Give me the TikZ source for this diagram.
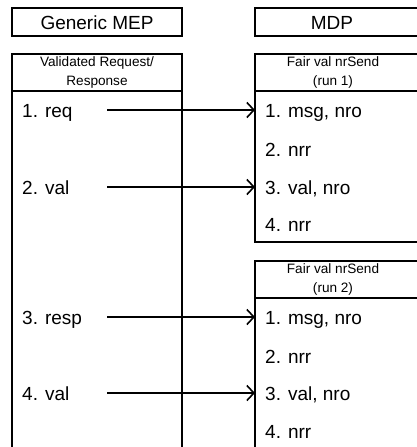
\documentclass[tikz,border=0pt]{standalone}
\usepackage{fontspec}
\setmainfont{Liberation Sans}
\usetikzlibrary{arrows.meta}
\begin{document}
\begin{tikzpicture}[x=1pt,y=-1pt,
  frame/.style={draw=black,line width=1.7pt},
  big/.style={font=\fontsize{19}{22}\selectfont,inner sep=0pt},
  small/.style={font=\fontsize{13.6}{19}\selectfont,inner sep=0pt,align=center},
  item/.style={big,anchor=base west},
  msg/.style={line width=1.7pt,-{Straight Barb[length=7pt,width=15pt,line width=1.6pt]}}]
\useasboundingbox (0,0) rectangle (417,447);
\clip (0,0) rectangle (417,447);

% title boxes
\draw[frame] (12,8) rectangle (182,36);
\node[big] (gmep) at (97,22.5) {Generic MEP};
\draw[frame] (255,8) rectangle (440,36);
\node[big] (mdp) at (332,22.5) {MDP};

% Generic MEP lifeline box
\coordinate (vtl) at (12,54);
\coordinate (vtr) at (182,54);
\draw[frame] (12,460) -- (vtl) -- (vtr) -- (182,460);
\draw[frame] (12,91) -- (182,91);
\node[small] (vhead) at (97,72.5) {Validated Request/\\Response};

% MDP run 1
\coordinate (f1tl) at (255,54);
\draw[frame] (440,54) -- (f1tl) -- (255,242) -- (440,242);
\draw[frame] (255,91) -- (440,91);
\node[small] (f1head) at (333,72.5) {Fair val nrSend\\(run 1)};

% MDP run 2
\coordinate (f2tl) at (255,261);
\draw[frame] (440,261) -- (f2tl) -- (255,460);
\draw[frame] (255,298) -- (440,298);
\node[small] (f2head) at (333,279.5) {Fair val nrSend\\(run 2)};

% left items
\node[item] (l1) at (22,117.5) {1. req};
\node[item] (l2) at (22,194.5) {2. val};
\node[item] (l3) at (22,324.5) {3. resp};
\node[item] (l4) at (22,400.5) {4. val};

% right items, run 1
\node[item] (r1) at (265,117.5) {1. msg, nro};
\node[item] (r2) at (265,156.5) {2. nrr};
\node[item] (r3) at (265,194.5) {3. val, nro};
\node[item] (r4) at (265,231.5) {4. nrr};

% right items, run 2
\node[item] (q1) at (265,324.5) {1. msg, nro};
\node[item] (q2) at (265,363.5) {2. nrr};
\node[item] (q3) at (265,400.5) {3. val, nro};
\node[item] (q4) at (265,438.5) {4. nrr};

% messages
\coordinate (s1) at (107,110);
\coordinate (s2) at (107,187);
\coordinate (s3) at (107,317);
\coordinate (s4) at (107,393);
\draw[msg] (s1) -- (s1 -| f1tl);
\draw[msg] (s2) -- (s2 -| f1tl);
\draw[msg] (s3) -- (s3 -| f2tl);
\draw[msg] (s4) -- (s4 -| f2tl);
\end{tikzpicture}
\end{document}
